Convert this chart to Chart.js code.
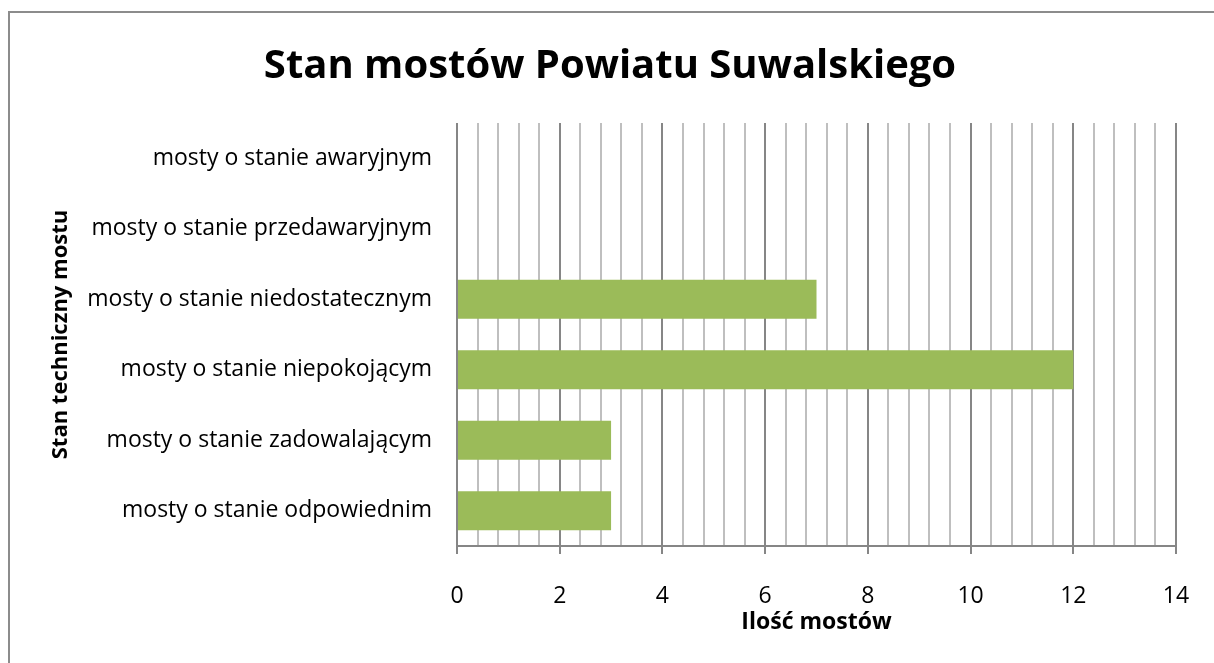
<!DOCTYPE html>
<html>
<head>
<meta charset="utf-8">
<script src="https://cdn.jsdelivr.net/npm/chart.js@4"></script>
<style>
  html, body { margin: 0; padding: 0; background: #fff; overflow: hidden; }
  #wrap { position: relative; width: 1214px; height: 663px; }
  #frame { position: absolute; left: 8px; top: 11px; width: 1300px; height: 800px;
           border: 2px solid #8c8c8c; box-sizing: border-box; pointer-events: none; }
</style>
</head>
<body>
<div id="wrap">
  <canvas id="bridgeChart" width="1214" height="663"></canvas>
  <div id="frame"></div>
</div>
<script>
// categories listed top to bottom, as in the picture
const categories = [
  "mosty o stanie awaryjnym",
  "mosty o stanie przedawaryjnym",
  "mosty o stanie niedostatecznym",
  "mosty o stanie niepokojącym",
  "mosty o stanie zadowalającym",
  "mosty o stanie odpowiednim"
];
const bridgeCounts = [0, 0, 7, 12, 3, 3];
const xTickLabels = [0, 2, 4, 6, 8, 10, 12, 14];
const minorPerMajor = 5;

const FONT = "'Open Sans', 'Noto Sans', sans-serif";
const MAJOR = "#868686";
const MINOR = "#bfbfbf";

function isMajor(v) {
  return xTickLabels.some(t => Math.abs(t - v) < 1e-6);
}

const ctx = document.getElementById("bridgeChart").getContext("2d");

new Chart(ctx, {
  type: "bar",
  data: {
    labels: categories,
    datasets: [
      {
        label: "Ilość mostów",
        data: bridgeCounts,
        backgroundColor: "#9bbb59",
        barPercentage: 0.55,
        categoryPercentage: 1
      }
    ]
  },
  options: {
    indexAxis: "y",
    responsive: false,
    animation: false,
    layout: { padding: { left: 44, right: 38, top: 10, bottom: 19 } },
    plugins: {
      legend: { display: false },
      tooltip: { enabled: false },
      title: {
        display: true,
        text: "Stan mostów Powiatu Suwalskiego",
        color: "#000",
        font: { family: FONT, size: 40, weight: "bold" },
        padding: { top: 33, bottom: 32 }
      }
    },
    scales: {
      x: {
        min: 0,
        max: 14,
        afterBuildTicks(scale) {
          const ticks = [];
          for (let i = 0; i < xTickLabels.length - 1; i++) {
            const a = xTickLabels[i], b = xTickLabels[i + 1];
            for (let k = 0; k < minorPerMajor; k++) {
              ticks.push({ value: a + (b - a) * k / minorPerMajor });
            }
          }
          ticks.push({ value: xTickLabels[xTickLabels.length - 1] });
          scale.ticks = ticks;
        },
        afterFit(scale) {
          scale.height = 98;
          scale.paddingLeft = 10;
          scale.paddingRight = 10;
        },
        border: { display: true, color: MAJOR, width: 2 },
        grid: {
          color: c => (isMajor(c.tick.value) ? MAJOR : MINOR),
          lineWidth: 2,
          tickColor: c => (isMajor(c.tick.value) ? MAJOR : "transparent"),
          tickLength: 8
        },
        ticks: {
          autoSkip: false,
          maxRotation: 0,
          color: "#000",
          padding: 29,
          font: { family: FONT, size: 23 },
          callback: v => (isMajor(v) ? String(Math.round(v)) : "")
        },
        title: {
          display: true,
          text: "Ilość mostów",
          color: "#000",
          font: { family: FONT, size: 23, weight: "bold" },
          padding: { top: 4, bottom: 8 }
        }
      },
      y: {
        afterFit(scale) {
          scale.width = 457 - 44;
        },
        border: { display: false },
        grid: { display: false, drawTicks: false },
        ticks: {
          color: "#000",
          padding: 25,
          font: { family: FONT, size: 23 }
        },
        title: {
          display: true,
          text: "Stan techniczny mostu",
          color: "#000",
          font: { family: FONT, size: 22, weight: "bold" },
          padding: { top: 4, bottom: 0 }
        }
      }
    }
  }
});
</script>
</body>
</html>
